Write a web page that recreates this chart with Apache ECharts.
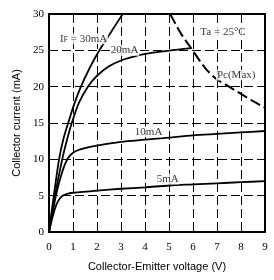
<!DOCTYPE html>
<html>
<head>
<meta charset="utf-8">
<script src="https://cdn.jsdelivr.net/npm/echarts@6/dist/echarts.min.js"></script>
<style>html,body{margin:0;padding:0;background:#fff;}#c{width:274px;height:280px;}</style>
</head>
<body>
<div id="c"></div>
<script>
// Tick values
var xTicks = [0, 1, 2, 3, 4, 5, 6, 7, 8, 9];
var yTicks = [0, 5, 10, 15, 20, 25, 30];

// Curves: [Vce (V), Ic (mA)]
var curve5mA = [[0,0],[0.15,2.1],[0.3,3.7],[0.45,4.6],[0.6,5.05],[0.8,5.28],[1,5.4],[2,5.7],[3,5.95],[4,6.15],[5,6.4],[6,6.55],[7,6.7],[8,6.85],[9,7.0]];
var curve10mA = [[0,0],[0.2,3.6],[0.36,6.0],[0.5,7.7],[0.65,9.2],[0.8,10.2],[1,10.9],[1.2,11.25],[1.5,11.55],[2,11.9],[3,12.4],[4,12.7],[5,13.0],[6,13.3],[7,13.5],[8,13.7],[9,13.9]];
var curve20mA = [[0,0],[0.25,5],[0.55,10],[0.75,12.7],[0.95,15],[1.25,17.8],[1.62,20],[2,21.5],[2.5,22.8],[3,23.6],[3.5,24.1],[4,24.5],[5,24.95],[5.92,25.3]];
var curve30mA = [[0,0],[0.2,5],[0.42,10],[0.6,12.8],[0.8,15],[1.05,17.6],[1.33,20],[1.7,22.6],[2.1,25],[2.6,27.6],[3.07,30]];
var curvePcMax = [[5.05,30],[5.5,27.3],[5.92,25.3],[6.5,22.6],[7,21.0],[7.5,20.0],[8,19.0],[8.5,18.0],[9,17.1]];

// Annotation texts with anchor (data coords)
var annotTexts = ['{i|I}{s|F}{i| = 30mA}', '20mA', '10mA', '5mA', 'Ta = 25°C', 'Pc(Max)'];
var annotAt = [[1.44,26.6],[3.15,25],[4.15,13.8],[4.95,7.3],[7.25,27.5],[7.8,21.6]];

var chart = echarts.init(document.getElementById('c'), null, {renderer:'canvas'});
var serif = 'Liberation Serif';
var sans = 'Liberation Sans';

function curveSeries(d, dashed) {
  return {
    type: 'line', data: d, showSymbol: false, smooth: 0.3,
    lineStyle: {color: '#000', width: dashed ? 2 : 1.8, type: dashed ? [11,4] : 'solid'},
    z: 5, silent: true, animation: false, clip: true
  };
}

var annotData = annotAt.map(function(p, i){ return {value: p, label: {formatter: annotTexts[i]}}; });

chart.setOption({
  animation: false,
  grid: {left: 49, right: 9, top: 14, bottom: 48, show: true, borderColor: '#000', borderWidth: 2, z: 10},
  xAxis: {
    type: 'value', min: xTicks[0], max: xTicks[xTicks.length-1], interval: 1,
    axisLine: {show: false}, axisTick: {show: false},
    axisLabel: {color: '#000', fontFamily: serif, fontSize: 11, margin: 10},
    splitLine: {show: true, lineStyle: {color: '#000', width: 1, type: [9,4]}},
    name: 'Collector-Emitter voltage (V)', nameLocation: 'middle', nameGap: 29,
    nameTextStyle: {color: '#000', fontFamily: sans, fontSize: 11}
  },
  yAxis: {
    type: 'value', min: yTicks[0], max: yTicks[yTicks.length-1], interval: 5,
    axisLine: {show: false}, axisTick: {show: false},
    axisLabel: {color: '#000', fontFamily: serif, fontSize: 11, margin: 5},
    splitLine: {show: true, lineStyle: {color: '#000', width: 1, type: [9,4]}},
    name: 'Collector current (mA)', nameLocation: 'middle', nameGap: 27, nameRotate: 90,
    nameTextStyle: {color: '#000', fontFamily: sans, fontSize: 11}
  },
  series: [
    curveSeries(curve5mA), curveSeries(curve10mA), curveSeries(curve20mA), curveSeries(curve30mA),
    curveSeries(curvePcMax, true),
    {
      type: 'scatter', data: annotData, symbolSize: 1, itemStyle: {color: 'rgba(0,0,0,0)'}, z: 20, silent: true,
      label: {
        show: true, position: 'inside', color: '#000', fontFamily: serif, fontSize: 11,
        backgroundColor: '#fff', padding: [0,1],
        rich: {i: {fontFamily: serif, fontSize: 11, color: '#000'}, s: {fontFamily: serif, fontSize: 8, color: '#000', verticalAlign: 'bottom', padding:[3,0,0,0]}}
      }
    }
  ]
});
</script>
</body>
</html>
